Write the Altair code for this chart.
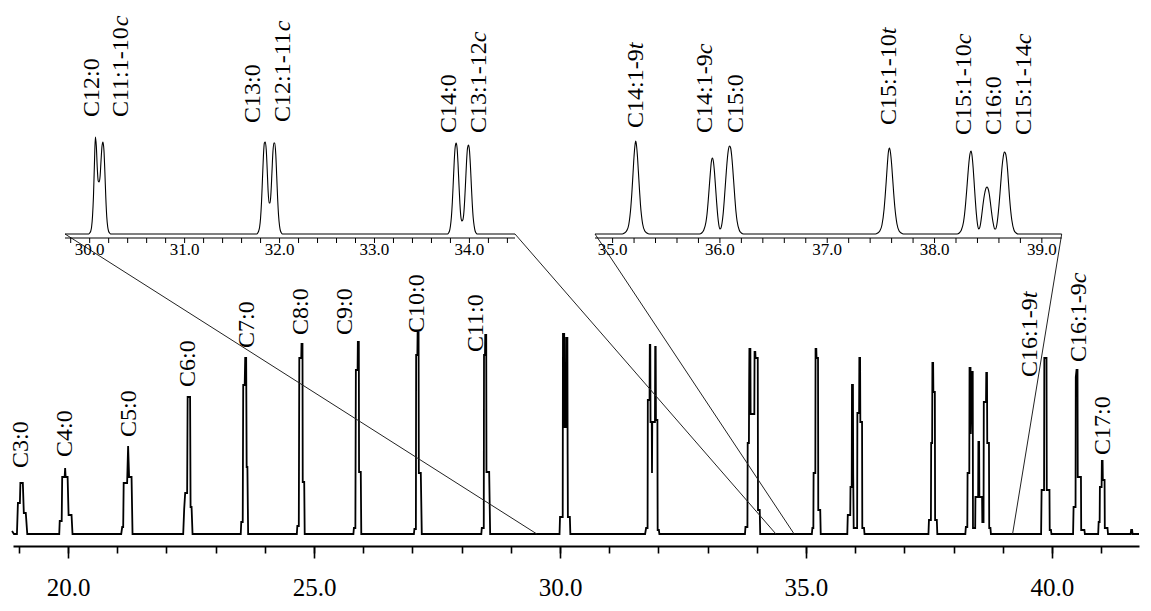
import altair as alt
import pandas as pd

FONT = "'Liberation Serif', 'Times New Roman', 'DejaVu Serif', serif"

# ---------------- main chromatogram (retention time in min, signal in arbitrary units) ----------------
MAIN_T = [18.86, 18.90,
          18.96, 18.98, 19.02, 19.03, 19.08, 19.10, 19.14, 19.17,                       # C3:0
          19.82, 19.83, 19.87, 19.88, 19.93, 19.94, 19.95, 19.99, 20.01, 20.07, 20.09,   # C4:0
          21.08, 21.10, 21.12, 21.13, 21.20, 21.22, 21.24, 21.29, 21.31,                 # C5:0
          22.34, 22.36, 22.38, 22.42, 22.43, 22.48, 22.49, 22.51, 22.53,                 # C6:0
          23.51, 23.52, 23.55, 23.56, 23.59, 23.60, 23.62, 23.63, 23.645, 23.66,         # C7:0
          24.65, 24.66, 24.69, 24.70, 24.74, 24.745, 24.765, 24.77, 24.80, 24.81,        # C8:0
          25.80, 25.81, 25.84, 25.85, 25.885, 25.89, 25.91, 25.915, 25.95, 25.96,        # C9:0
          27.03, 27.04, 27.07, 27.075, 27.10, 27.105, 27.125, 27.13, 27.17, 27.19,       # C10:0
          28.40, 28.41, 28.45, 28.455, 28.475, 28.48, 28.50, 28.505, 28.56, 28.58,       # C11:0
          29.99, 30.00, 30.055, 30.06, 30.085, 30.09, 30.12, 30.125, 30.15, 30.155, 30.16, 30.20, 30.21,
          31.73, 31.75, 31.78, 31.785, 31.82, 31.825, 31.835, 31.84, 31.865, 31.87, 31.875, 31.93,
          31.935, 31.945, 31.95, 31.98, 31.985, 32.01, 32.02,
          33.76, 33.77, 33.81, 33.815, 33.84, 33.845, 33.85, 33.87, 33.875, 33.95, 33.955, 33.97,
          33.975, 34.02, 34.025, 34.06, 34.07,
          35.12, 35.13, 35.15, 35.155, 35.19, 35.195, 35.21, 35.215, 35.245, 35.25, 35.29, 35.30,
          35.84, 35.85, 35.90, 35.905, 35.93, 35.935, 35.955, 35.96, 35.97, 36.04, 36.045, 36.08,
          36.085, 36.10, 36.105, 36.14, 36.145, 36.18, 36.19,
          37.49, 37.50, 37.54, 37.545, 37.565, 37.57, 37.585, 37.59, 37.62, 37.625, 37.66, 37.67,
          38.24, 38.25, 38.28, 38.285, 38.32, 38.325, 38.345, 38.35, 38.38, 38.39, 38.395, 38.44,
          38.445, 38.50, 38.505, 38.52, 38.525, 38.58, 38.585, 38.61, 38.615, 38.66, 38.665, 38.68,
          38.685, 38.72, 38.725, 38.75, 38.76,
          39.78, 39.79, 39.84, 39.845, 39.89, 39.895, 39.95, 39.955, 39.98, 39.99,
          40.43, 40.44, 40.48, 40.485, 40.50, 40.52, 40.525, 40.59, 40.595, 40.66, 40.67,
          40.94, 40.95, 40.97, 40.975, 41.01, 41.015, 41.03, 41.035, 41.07, 41.075, 41.13, 41.14,
          41.60, 41.61, 41.63, 41.64, 41.77]
MAIN_H = [3, 0,
          0, 31, 31, 51, 51, 21, 21, 0,
          0, 13, 13, 57, 57, 66, 57, 57, 19, 19, 0,
          0, 7, 7, 51, 51, 88, 57, 57, 0,
          0, 25, 41, 41, 137, 137, 27, 27, 0,
          0, 12, 12, 149, 149, 176, 176, 67, 67, 0,
          0, 8, 8, 176, 176, 190, 190, 52, 52, 0,
          0, 6, 6, 164, 164, 192, 192, 62, 62, 0,
          0, 5, 5, 179, 179, 201, 201, 61, 61, 0,
          0, 6, 6, 179, 179, 199, 199, 62, 62, 0,
          0, 17, 17, 200, 200, 107, 107, 196, 196, 80, 17, 17, 0,
          0, 6, 6, 134, 134, 189, 189, 112, 112, 61, 112, 112,
          187, 187, 114, 114, 4, 4, 0,
          0, 7, 7, 91, 91, 151, 185, 185, 120, 120, 182, 182,
          176, 176, 24, 24, 0,
          0, 6, 6, 61, 61, 185, 185, 176, 176, 24, 24, 0,
          0, 19, 19, 47, 47, 149, 149, 60, 6, 6, 121, 121,
          176, 176, 112, 112, 6, 6, 0,
          0, 14, 14, 91, 91, 171, 171, 142, 142, 14, 14, 0,
          0, 7, 7, 61, 61, 166, 166, 100, 162, 162, 6, 6,
          37, 37, 92, 92, 37, 37, 12, 12, 132, 132, 161, 161,
          91, 91, 6, 6, 0,
          0, 44, 44, 176, 176, 44, 44, 4, 4, 0,
          0, 27, 27, 157, 164, 164, 57, 57, 4, 4, 0,
          0, 12, 12, 47, 47, 73, 73, 54, 54, 6, 6, 0,
          0, 4, 4, 0, 0]

MAIN_LAB = ["C3:0", "C4:0", "C5:0", "C6:0", "C7:0", "C8:0", "C9:0", "C10:0", "C11:0",
            "C16:1-9", "C16:1-9", "C17:0"]
MAIN_LAB_IT = ["", "", "", "", "", "", "", "", "", "t", "c", ""]
MAIN_LAB_X = [19.04, 19.94, 21.24, 22.43, 23.63, 24.73, 25.63, 27.09, 28.29, 39.55, 40.56, 41.04]
MAIN_LAB_Y = [66, 77, 97, 147, 186, 199, 199, 201, 182, 157, 172, 79]

MAIN_TICKS = list(range(19, 42))
MAIN_MAJOR = [20, 25, 30, 35, 40]

# ---------------- left inset (29.7 - 34.5 min) ----------------
LEFT_T = [29.74, 29.99, 30.00, 30.01, 30.02, 30.03, 30.04, 30.05, 30.06, 30.07, 30.08, 30.09,
          30.10, 30.11, 30.12, 30.13, 30.14, 30.15, 30.16, 30.17, 30.18, 30.19, 30.20, 30.21, 30.22,
          31.76, 31.77, 31.78, 31.79, 31.80, 31.81, 31.82, 31.83, 31.84, 31.85, 31.86, 31.87,
          31.88, 31.89, 31.90, 31.91, 31.92, 31.93, 31.94, 31.95, 31.96, 31.97, 31.98, 31.99,
          32.00, 32.01, 32.02, 32.03,
          33.77, 33.78, 33.79, 33.80, 33.81, 33.82, 33.83, 33.84, 33.85, 33.86, 33.87, 33.88,
          33.89, 33.90, 33.91, 33.92, 33.93, 33.94, 33.95, 33.96, 33.97, 33.98, 33.99, 34.00,
          34.01, 34.02, 34.03, 34.04, 34.05, 34.06, 34.07, 34.08, 34.48]
LEFT_H = [0, 0, 1, 2.5, 7, 18, 38, 70, 97, 88, 66, 53,
          52, 58, 74, 88, 92, 84, 62, 36, 17, 7, 2.5, 1, 0,
          0, 1, 3, 7, 16, 32, 55, 78, 91, 92, 84, 64,
          42, 31, 31, 42, 62, 82, 91, 91, 80, 58, 35, 18,
          8, 3, 1, 0,
          0, 1, 3, 8, 17, 32, 52, 73, 87, 91, 86, 70,
          49, 30, 17, 13, 14, 20, 34, 53, 73, 86, 89, 84,
          69, 49, 30, 16, 8, 3, 1, 0, 0]
LEFT_LAB = ["C12:0", "C11:1-10", "C13:0", "C12:1-11", "C14:0", "C13:1-12"]
LEFT_LAB_IT = ["", "c", "", "c", "", "c"]
LEFT_LAB_X = [30.02, 30.33, 31.72, 32.04, 33.79, 34.10]
LEFT_LAB_Y = [117, 117, 111, 112, 101, 101]
LEFT_TICKS = [round(29.8 + 0.2 * i, 1) for i in range(24)]

# ---------------- right inset (34.8 - 39.2 min) ----------------
RIGHT_T = [34.836,
           35.09, 35.11, 35.13, 35.15, 35.17, 35.18, 35.19, 35.20, 35.21, 35.215, 35.22, 35.23,
           35.24, 35.25, 35.26, 35.28, 35.30, 35.32, 35.34,
           35.81, 35.83, 35.85, 35.87, 35.88, 35.89, 35.90, 35.91, 35.92, 35.93, 35.94, 35.95,
           35.96, 35.97, 35.98, 35.99, 36.00, 36.01, 36.02, 36.03, 36.04, 36.05, 36.06, 36.07,
           36.08, 36.09, 36.10, 36.11, 36.12, 36.13, 36.14, 36.15, 36.16, 36.18, 36.20, 36.22,
           37.45, 37.47, 37.49, 37.51, 37.53, 37.54, 37.55, 37.56, 37.57, 37.58, 37.59, 37.60,
           37.61, 37.62, 37.63, 37.65, 37.67, 37.69, 37.71,
           38.21, 38.23, 38.25, 38.27, 38.28, 38.29, 38.30, 38.31, 38.32, 38.33, 38.34, 38.35,
           38.36, 38.37, 38.38, 38.39, 38.40, 38.41, 38.42, 38.43, 38.44, 38.45, 38.46, 38.47,
           38.48, 38.49, 38.50, 38.51, 38.52, 38.53, 38.54, 38.55, 38.56, 38.57, 38.58, 38.59,
           38.60, 38.61, 38.62, 38.63, 38.64, 38.65, 38.66, 38.67, 38.68, 38.69, 38.70, 38.71,
           38.72, 38.74, 38.76, 38.78, 39.185]
RIGHT_H = [0,
           0, 1, 3, 9, 27, 42, 60, 78, 90, 93, 91, 80,
           63, 45, 29, 10, 3, 1, 0,
           0, 1, 4, 12, 20, 32, 46, 60, 72, 76, 72, 61,
           46, 31, 18, 9, 5, 6, 11, 20, 33, 48, 63, 76,
           85, 88, 86, 78, 65, 50, 35, 22, 13, 4, 1, 0,
           0, 1, 3, 9, 25, 38, 53, 69, 82, 86, 81, 70,
           55, 40, 27, 10, 3, 1, 0,
           0, 1, 4, 12, 20, 31, 44, 58, 71, 80, 83, 78,
           66, 50, 34, 20, 10, 5, 6, 11, 19, 28, 36, 42,
           46, 47, 45, 40, 32, 23, 15, 9, 5, 5, 9, 17,
           28, 41, 55, 68, 77, 82, 81, 76, 65, 50, 35, 23,
           14, 4, 1, 0, 0]
RIGHT_LAB = ["C14:1-9", "C14:1-9", "C15:0", "C15:1-10", "C15:1-10", "C16:0", "C15:1-14"]
RIGHT_LAB_IT = ["t", "c", "", "t", "c", "", "c"]
RIGHT_LAB_X = [35.22, 35.86, 36.15, 37.58, 38.27, 38.55, 38.83]
RIGHT_LAB_Y = [106, 101, 101, 109, 99, 99, 99]
RIGHT_TICKS = [round(35.0 + 0.2 * i, 1) for i in range(21)]

# main-axis times where the zoom connector lines land
ZOOM_TARGETS = [29.53, 34.39, 34.76, 39.20]

# ---------------- layout (view pixels) ----------------
W, H = 1135, 538
MAIN_DOM, MAIN_RANGE = [18.88, 41.77], [5, 1131]
MAIN_YDOM, MAIN_YRANGE = [0, 520], [526, 6]
LEFT_DOM, LEFT_RANGE = [29.74, 34.48], [57, 507]
RIGHT_DOM, RIGHT_RANGE = [34.836, 39.185], [587, 1053.7]
INSET_YDOM, INSET_YRANGE = [0, 100], [226, 126]
INSET_AXIS = -4       # inset axis line, in inset signal units (below baseline)
INSET_TICK = -9       # end of inset ticks
INSET_LABEL = -8      # top of inset tick labels

EM = {"C": 0.667, ":": 0.278, "-": 0.333, "c": 0.444, "t": 0.278}


def text_px(s, size=24):
    return sum(EM.get(ch, 0.5) for ch in s) * size


def inv(dom, rng, r):
    return dom[0] + (r - rng[0]) * (dom[1] - dom[0]) / (rng[1] - rng[0])


def px_per_unit(dom, rng):
    return abs(rng[1] - rng[0]) / (dom[1] - dom[0])


def label_frames(labs, its, xs, ys, ydom, yrng):
    k = px_per_unit(ydom, yrng)
    base = pd.DataFrame({"x": xs, "y": ys, "label": labs})
    rows = [(x, y + text_px(l) / k, s) for l, s, x, y in zip(labs, its, xs, ys) if s]
    suf = pd.DataFrame(rows, columns=["x", "y", "label"])
    return base, suf


def sc(dom, rng):
    return alt.Scale(domain=dom, range=rng, nice=False, zero=False)


text_kw = dict(font=FONT, fontSize=24, angle=270, align="left", baseline="middle", color="black")

# ---------------- main layer ----------------
mx, my = sc(MAIN_DOM, MAIN_RANGE), sc(MAIN_YDOM, MAIN_YRANGE)
minor_axis = alt.Axis(orient="bottom", values=MAIN_TICKS, tickSize=7, tickWidth=1.6, tickColor="black",
                      labels=False, domainColor="black", domainWidth=2, grid=False, title=None)
major_axis = alt.Axis(orient="bottom", values=MAIN_MAJOR, tickSize=12, tickWidth=1.6, tickColor="black",
                      domain=False, grid=False, title=None, format=".1f", labelFont=FONT,
                      labelFontSize=25, labelColor="black", labelPadding=17, labelFlush=False,
                      labelOverlap=False)

main_line = alt.Chart(pd.DataFrame({"t": MAIN_T, "h": MAIN_H})).mark_line(
    color="black", strokeWidth=1.8).encode(
    x=alt.X("t:Q", scale=mx, axis=minor_axis),
    y=alt.Y("h:Q", scale=my, axis=None))

mlab, msuf = label_frames(MAIN_LAB, MAIN_LAB_IT, MAIN_LAB_X, MAIN_LAB_Y, MAIN_YDOM, MAIN_YRANGE)
main_text = alt.Chart(mlab).mark_text(**text_kw).encode(
    x=alt.X("x:Q", scale=mx, axis=major_axis),
    y=alt.Y("y:Q", scale=my, axis=None), text="label:N")
main_suf = alt.Chart(msuf).mark_text(fontStyle="italic", **text_kw).encode(
    x=alt.X("x:Q", scale=mx, axis=None),
    y=alt.Y("y:Q", scale=my, axis=None), text="label:N")

corners = [LEFT_RANGE[0], LEFT_RANGE[1], RIGHT_RANGE[0], RIGHT_RANGE[1]]
conn_df = pd.DataFrame({
    "x": [inv(MAIN_DOM, MAIN_RANGE, c) for c in corners],
    "y": [inv(MAIN_YDOM, MAIN_YRANGE, INSET_YRANGE[0])] * 4,
    "x2": ZOOM_TARGETS,
    "y2": [0] * 4})
conn = alt.Chart(conn_df).mark_rule(color="#222222", strokeWidth=1).encode(
    x=alt.X("x:Q", scale=mx, axis=None), y=alt.Y("y:Q", scale=my, axis=None),
    x2="x2:Q", y2="y2:Q")

main = alt.layer(main_line, conn, main_text, main_suf).resolve_axis(x="independent")


# ---------------- insets ----------------
def inset(ts, hs, labs, its, lx, ly, dom, rng, ticks):
    xs, ys = sc(dom, rng), sc(INSET_YDOM, INSET_YRANGE)
    X = lambda f: alt.X(f, scale=xs, axis=None)
    Y = lambda f: alt.Y(f, scale=ys, axis=None)
    line = alt.Chart(pd.DataFrame({"t": ts, "h": hs})).mark_line(
        color="black", strokeWidth=1.1, interpolate="monotone").encode(x=X("t:Q"), y=Y("h:Q"))
    lab, suf = label_frames(labs, its, lx, ly, INSET_YDOM, INSET_YRANGE)
    t1 = alt.Chart(lab).mark_text(**text_kw).encode(x=X("x:Q"), y=Y("y:Q"), text="label:N")
    t2 = alt.Chart(suf).mark_text(fontStyle="italic", **text_kw).encode(
        x=X("x:Q"), y=Y("y:Q"), text="label:N")
    # axis drawn from the inset scale: domain line, ticks every 0.2 min, labels on whole minutes
    dom_df = pd.DataFrame({"a": [dom[0]], "b": [dom[1]], "y": [INSET_AXIS]})
    domain = alt.Chart(dom_df).mark_rule(color="black", strokeWidth=1.2).encode(
        x=X("a:Q"), x2="b:Q", y=Y("y:Q"))
    tick_df = pd.DataFrame({"v": ticks, "y": [INSET_AXIS] * len(ticks), "y2": [INSET_TICK] * len(ticks)})
    tks = alt.Chart(tick_df).mark_rule(color="black", strokeWidth=1).encode(
        x=X("v:Q"), y=Y("y:Q"), y2="y2:Q")
    whole = [v for v in ticks if abs(v - round(v)) < 1e-6]
    tl_df = pd.DataFrame({"v": whole, "y": [INSET_LABEL] * len(whole),
                          "s": [f"{v:.1f}" for v in whole]})
    tlab = alt.Chart(tl_df).mark_text(font=FONT, fontSize=17, baseline="top", align="center",
                                      color="black").encode(x=X("v:Q"), y=Y("y:Q"), text="s:N")
    return alt.layer(line, domain, tks, tlab, t1, t2)


left = inset(LEFT_T, LEFT_H, LEFT_LAB, LEFT_LAB_IT, LEFT_LAB_X, LEFT_LAB_Y,
             LEFT_DOM, LEFT_RANGE, LEFT_TICKS)
right = inset(RIGHT_T, RIGHT_H, RIGHT_LAB, RIGHT_LAB_IT, RIGHT_LAB_X, RIGHT_LAB_Y,
              RIGHT_DOM, RIGHT_RANGE, RIGHT_TICKS)

chart = alt.layer(main, left, right).resolve_scale(
    x="independent", y="independent").properties(
    width=W, height=H,
    padding={"left": 0, "top": 0, "right": 0, "bottom": 65},
    autosize=alt.AutoSizeParams(type="none"),
    background="white").configure_view(stroke=None)

chart.save("out.html", embed_options={"renderer": "svg", "actions": False})
